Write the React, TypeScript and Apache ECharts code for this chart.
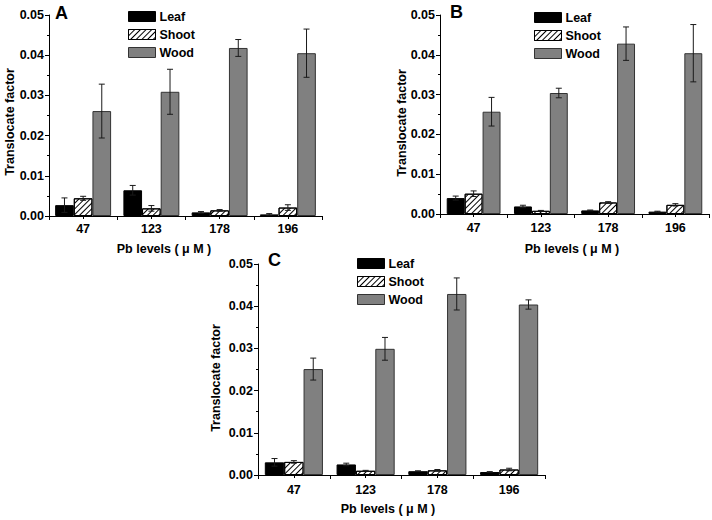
import React, { useEffect, useRef } from 'react';
import * as echarts from 'echarts';

const categories = ['47', '123', '178', '196'];
const seriesNames = ['Leaf', 'Shoot', 'Wood'];
const panelLabels = ['A', 'B', 'C'];
const yAxisTitle = 'Translocate factor';
const xAxisTitle = 'Pb levels ( μ M )';

// Panel A
const leafA = [0.0027, 0.0064, 0.0009, 0.0004];
const leafAErr = [0.0018, 0.0012, 0.0002, 0.0002];
const shootA = [0.0044, 0.0019, 0.0014, 0.0021];
const shootAErr = [0.0005, 0.0007, 0.0002, 0.0007];
const woodA = [0.0261, 0.0309, 0.0418, 0.0405];
const woodAErr = [0.0067, 0.0056, 0.0021, 0.006];

// Panel B
const leafB = [0.004, 0.0019, 0.0009, 0.0006];
const leafBErr = [0.0005, 0.0003, 0.0001, 0.0001];
const shootB = [0.0051, 0.0008, 0.0029, 0.0023];
const shootBErr = [0.0007, 0.0001, 0.0002, 0.0003];
const woodB = [0.0257, 0.0304, 0.0428, 0.0404];
const woodBErr = [0.0036, 0.0012, 0.0042, 0.0072];

// Panel C
const leafC = [0.003, 0.0025, 0.0009, 0.0007];
const leafCErr = [0.0009, 0.0003, 0.0001, 0.0001];
const shootC = [0.0031, 0.001, 0.0011, 0.0013];
const shootCErr = [0.0003, 0.0001, 0.0002, 0.0003];
const woodC = [0.0251, 0.0299, 0.0429, 0.0404];
const woodCErr = [0.0026, 0.0027, 0.0038, 0.0011];

const yMin = 0;
const yMax = 0.05;
const yInterval = 0.01;

const FONT = '"Liberation Sans", Arial, sans-serif';

const panelData = [
  { values: [leafA, shootA, woodA], errors: [leafAErr, shootAErr, woodAErr] },
  { values: [leafB, shootB, woodB], errors: [leafBErr, shootBErr, woodBErr] },
  { values: [leafC, shootC, woodC], errors: [leafCErr, shootCErr, woodCErr] },
];

// layout (pixels)
const layouts = [
  { left: 49, top: 15, width: 273, height: 201, gap: 0.18, labelMargin: 6, legendLeft: 128, legendTop: 10, letterX: 55, letterY: 4, yNameX: 10, yNameY: 122, xNameX: 164, xNameY: 249 },
  { left: 440, top: 15, width: 269, height: 199, gap: 0.2, labelMargin: 7, legendLeft: 534, legendTop: 11, letterX: 450, letterY: 3, yNameX: 402, yNameY: 123, xNameX: 572, xNameY: 249 },
  { left: 258, top: 264, width: 287, height: 211, gap: 0.19, labelMargin: 8, legendLeft: 357, legendTop: 257, letterX: 268, letterY: 251, yNameX: 216, yNameY: 378, xNameX: 388, xNameY: 509 },
];

const styles = [
  { color: '#000000', borderColor: '#000000', borderWidth: 1 },
  {
    color: '#ffffff',
    borderColor: '#000000',
    borderWidth: 1,
    decal: {
      symbol: 'rect',
      symbolSize: 1,
      color: '#000000',
      dashArrayX: [1, 0],
      dashArrayY: [1, 3],
      rotation: -Math.PI / 4,
    },
  },
  { color: '#808080', borderColor: '#333333', borderWidth: 1 },
];

export default function App() {
  const ref = useRef<HTMLDivElement>(null);

  useEffect(() => {
    if (!ref.current) return;
    const chart = echarts.init(ref.current, undefined, { renderer: 'svg' });

    const grid: any[] = [];
    const xAxis: any[] = [];
    const yAxis: any[] = [];
    const series: any[] = [];
    const legend: any[] = [];
    const graphic: any[] = [];

    layouts.forEach((L, p) => {
      grid.push({ left: L.left, top: L.top, width: L.width, height: L.height, containLabel: false });
      xAxis.push({
        type: 'category',
        gridIndex: p,
        data: categories,
        axisLine: { show: true, lineStyle: { color: '#000', width: 1 } },
        axisTick: { show: true, interval: 0, alignWithLabel: false, length: 4, lineStyle: { color: '#000' } },
        axisLabel: { interval: 0, margin: L.labelMargin, color: '#000', fontFamily: FONT, fontWeight: 'bold', fontSize: 12.5 },
        splitLine: { show: false },
      });
      xAxis.push({
        type: 'category',
        gridIndex: p,
        data: categories,
        position: 'bottom',
        axisLine: { show: false },
        axisTick: { show: true, interval: 0, alignWithLabel: true, length: 3, lineStyle: { color: '#000' } },
        axisLabel: { show: false },
        splitLine: { show: false },
      });
      yAxis.push({
        type: 'value',
        gridIndex: p,
        min: yMin,
        max: yMax,
        interval: yInterval,
        axisLine: { show: true, lineStyle: { color: '#000', width: 1 } },
        axisTick: { show: true, length: 4, lineStyle: { color: '#000' } },
        minorTick: { show: true, splitNumber: 2, length: 2, lineStyle: { color: '#000' } },
        axisLabel: {
          margin: 5,
          color: '#000',
          fontFamily: FONT,
          fontWeight: 'bold',
          fontSize: 12.5,
          formatter: (v: number) => v.toFixed(2),
        },
        splitLine: { show: false },
      });

      const D = panelData[p];
      seriesNames.forEach((name, s) => {
        series.push({
          type: 'bar',
          name,
          xAxisIndex: p * 2,
          yAxisIndex: p,
          data: D.values[s],
          barGap: '0%',
          barCategoryGap: `${Math.round(L.gap * 100)}%`,
          itemStyle: styles[s],
          emphasis: { disabled: true },
          z: 2,
        });
      });

      const errData: number[][] = [];
      seriesNames.forEach((_, s) => {
        D.values[s].forEach((v, i) => errData.push([i, v, D.errors[s][i], s]));
      });
      const gap = L.gap;
      series.push({
        type: 'custom',
        xAxisIndex: p * 2,
        yAxisIndex: p,
        data: errData,
        encode: { x: 0, y: 1 },
        clip: false,
        z: 5,
        silent: true,
        renderItem: (params: any, api: any) => {
          const ci = api.value(0);
          const v = api.value(1);
          const e = api.value(2);
          const si = api.value(3);
          const c = api.coord([ci, v]);
          const catW = api.size([1, 0])[0];
          const bw = (catW * (1 - gap)) / 3;
          const x = c[0] + (si - 1) * bw;
          const yt = api.coord([ci, v + e])[1];
          const yb = api.coord([ci, Math.max(0, v - e)])[1];
          const hw = 3;
          const st = { stroke: '#1a1a1a', lineWidth: 1 };
          return {
            type: 'group',
            children: [
              { type: 'line', shape: { x1: x, y1: yt, x2: x, y2: yb }, style: st },
              { type: 'line', shape: { x1: x - hw, y1: yt, x2: x + hw, y2: yt }, style: st },
              { type: 'line', shape: { x1: x - hw, y1: yb, x2: x + hw, y2: yb }, style: st },
            ],
          };
        },
      });

      legend.push({
        data: seriesNames,
        orient: 'vertical',
        left: L.legendLeft,
        top: L.legendTop,
        padding: 0,
        itemWidth: 27,
        itemHeight: 10,
        itemGap: 5,
        icon: 'rect',
        selectedMode: false,
        itemStyle: { borderWidth: 1 },
        textStyle: { color: '#000', fontFamily: FONT, fontWeight: 'bold', fontSize: 12.5, padding: [0, 0, 0, -1] },
      });

      graphic.push({
        type: 'text',
        left: L.letterX,
        top: L.letterY,
        style: { text: panelLabels[p], fill: '#000', font: `bold 18px ${FONT}` },
      });
      graphic.push({
        type: 'text',
        x: L.yNameX,
        y: L.yNameY,
        rotation: Math.PI / 2,
        style: {
          text: yAxisTitle,
          fill: '#000',
          font: `bold 12.5px ${FONT}`,
          textAlign: 'center',
          textVerticalAlign: 'middle',
        },
      });
      graphic.push({
        type: 'text',
        x: L.xNameX,
        y: L.xNameY,
        style: {
          text: xAxisTitle,
          fill: '#000',
          font: `bold 12.5px ${FONT}`,
          textAlign: 'center',
          textVerticalAlign: 'middle',
        },
      });
    });

    chart.setOption({
      animation: false,
      backgroundColor: '#ffffff',
      grid,
      xAxis,
      yAxis,
      legend,
      series,
      graphic,
    });

    return () => chart.dispose();
  }, []);

  return (
    <div
      ref={ref}
      style={{ position: 'absolute', left: 0, top: 0, width: 712, height: 520 }}
    />
  );
}
